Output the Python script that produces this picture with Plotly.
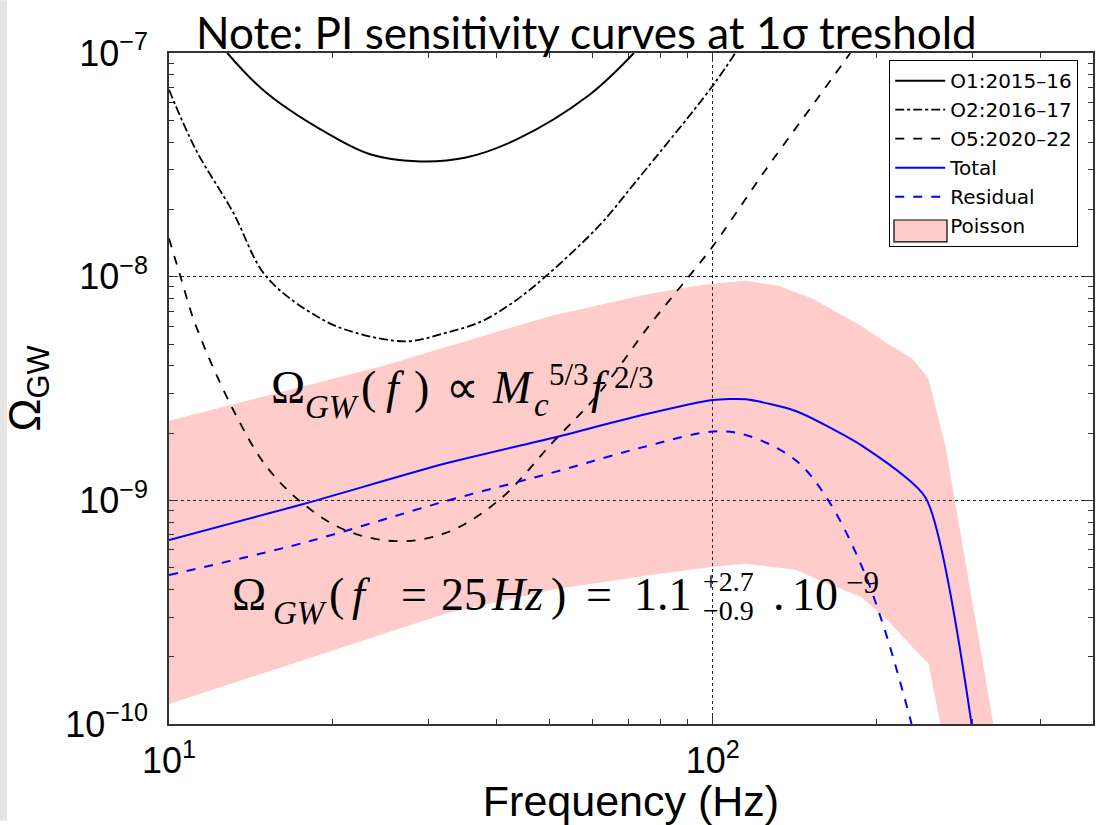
import plotly.graph_objects as go

# ---------------- data ----------------
o1_f = [12.8, 15.1, 20.5, 23.5, 28.5, 35.0, 43.5, 59.0, 71.6]
o1_om = [1.0e-7, 6.64e-8, 4.1e-8, 3.52e-8, 3.28e-8, 3.4e-8, 4.1e-8, 6.44e-8, 1.0e-7]

o2_f = [10.0, 11.2, 13.1, 15.1, 19.0, 22.1, 27.4, 32.2, 37.5, 43.0, 49.2, 61.8, 72.0, 99.6, 110.0]
o2_om = [6.85e-8, 3.7e-8, 1.95e-8, 1.0e-8, 6.5e-9, 5.6e-9, 5.14e-9, 5.6e-9, 6.3e-9, 7.7e-9, 1.0e-8, 1.69e-8,
         2.64e-8, 7.06e-8, 1.0e-7]

o5_f = [10.0, 10.5, 11.2, 13.1, 15.1, 17.6, 21.1, 26.1, 32.2, 40.4, 50.7, 61.8, 76.4, 90.3, 99.6, 125.0, 154.5, 179.0]
o5_om = [1.48e-8, 1.0e-8, 6.05e-9, 2.56e-9, 1.42e-9, 9.7e-10, 7.36e-10, 6.57e-10, 7.13e-10, 1.0e-9,
         1.81e-9, 3.02e-9, 6.05e-9, 1.0e-8, 1.35e-8, 3.0e-8, 6.1e-8, 1.0e-7]

total_f = [10.0, 17.6, 32.2, 50.7, 73.8, 100.0, 115.0, 142.0, 187.0, 246.0, 299.0]
total_om = [6.64e-10, 9.6e-10, 1.46e-9, 1.9e-9, 2.4e-9, 2.81e-9, 2.83e-9, 2.51e-9, 1.77e-9, 1.03e-9, 1.0e-10]

resid_f = [10.0, 17.6, 32.2, 50.7, 73.8, 100.0, 115.0, 142.0, 163.0, 187.0, 207.0, 232.0]
resid_om = [4.64e-10, 6.44e-10, 9.9e-10, 1.33e-9, 1.72e-9, 2.03e-9, 1.96e-9, 1.51e-9, 1.0e-9, 5.2e-10, 2.64e-10, 1.0e-10]

pois_up_f = [10.0, 24.6, 50.7, 75.0, 90.0, 100.0, 115.0, 132.0, 152.0, 170.0, 187.0, 210.0, 232.0, 249.0, 268.0, 328.0]
pois_up_om = [2.27e-9, 3.98e-9, 6.71e-9, 8.3e-9, 9.0e-9, 9.3e-9, 9.6e-9, 9.1e-9, 8.0e-9, 6.85e-9, 6.05e-9,
              5.0e-9, 4.33e-9, 3.52e-9, 1.73e-9, 1.0e-10]
pois_lo_f = [10.0, 17.6, 32.2, 50.7, 75.0, 100.0, 115.0, 142.0, 160.0, 187.0, 210.0, 232.0, 249.0, 262.0]
pois_lo_om = [1.23e-10, 1.92e-10, 3.11e-10, 3.98e-10, 4.6e-10, 5.05e-10, 5.2e-10, 4.89e-10, 4.3e-10, 3.71e-10,
              2.9e-10, 2.22e-10, 1.87e-10, 1.0e-10]

x_tickvals = [10, 100]
x_ticktext = ["10<sup>1</sup>", "10<sup>2</sup>"]
y_tickvals = [1e-10, 1e-9, 1e-8, 1e-7]
y_ticktext = ["10<sup>\u221210</sup>", "10<sup>\u22129</sup>", "10<sup>\u22128</sup>", "10<sup>\u22127</sup>"]

# ---------------- figure ----------------
W, H = 1107, 825
L, R, T, B = 169, 14, 53, 97
PW, PH = W - L - R, H - T - B

fig = go.Figure()

fig.add_trace(go.Scatter(
    x=pois_up_f + pois_lo_f[::-1], y=pois_up_om + pois_lo_om[::-1],
    fill="toself", fillcolor="rgba(255,0,0,0.2)", mode="lines",
    line=dict(width=0, color="rgba(0,0,0,0)"),
    showlegend=False, hoverinfo="skip"))

def line(xs, ys, name, color, dash, width, smooth=1.0):
    fig.add_trace(go.Scatter(x=xs, y=ys, mode="lines", name=name,
                             line=dict(color=color, dash=dash, width=width, shape="spline", smoothing=smooth)))

line(o1_f, o1_om, "O1:2015\u201316", "black", "solid", 2)
line(o2_f, o2_om, "O2:2016\u201317", "black", "dashdot", 1.8)
line(o5_f, o5_om, "O5:2020\u201322", "black", "dash", 1.8)
line(total_f, total_om, "Total", "#0000ff", "solid", 2, 0.6)
line(resid_f, resid_om, "Residual", "#0000ff", "dash", 2, 1.0)
# legend entry for the Poisson band (its swatch is drawn as a bordered box below)
fig.add_trace(go.Scatter(x=[None], y=[None], mode="lines", name="Poisson",
                         line=dict(color="rgba(0,0,0,0)", width=0)))

axis_common = dict(
    type="log", showline=True, linecolor="#333", linewidth=1.5, mirror="ticks",
    ticks="inside", ticklen=9, tickwidth=1.2, tickcolor="#333",
    showgrid=True, gridcolor="#222", griddash="dot", gridwidth=1,
    zeroline=False, tickmode="array",
    tickfont=dict(family="Liberation Sans, Arial", size=36, color="black"),
    minor=dict(ticks="inside", ticklen=5, tickcolor="#333", tickwidth=1, showgrid=False, dtick="D1"),
)

fig.update_xaxes(**axis_common, range=[1, 2.699], tickvals=x_tickvals, ticktext=x_ticktext,
                 title=dict(text="Frequency (Hz)", font=dict(family="Liberation Sans, Arial", size=43, color="black"),
                            standoff=2), ticklabelstandoff=4)
fig.update_yaxes(**axis_common, range=[-10, -7], tickvals=y_tickvals, ticktext=y_ticktext,
                 title=dict(text="\u03a9<sub>GW</sub>", font=dict(family="Liberation Sans, Arial", size=44, color="black"),
                            standoff=12), ticklabelstandoff=12)

def px(x):
    return (x - L) / PW

def py(y):
    return (H - B - y) / PH

annos = []

def tok(text, x, base, size, family="Liberation Serif, Times New Roman, serif", off=0.3375):
    annos.append(dict(text=text, xref="paper", yref="paper", x=px(x), y=py(base - off * size),
                      xanchor="left", yanchor="middle", showarrow=False, borderpad=0,
                      font=dict(family=family, size=size, color="black")))

# title note
annos.append(dict(text="Note: PI sensitivity curves at 1\u03c3 treshold", xref="paper", yref="paper",
                  x=px(586), y=py(32), xanchor="center", yanchor="middle", showarrow=False,
                  font=dict(family="Lato, Open Sans, sans-serif", size=44, color="black")))

# formula 1
tok("\u03a9", 270, 405, 46)
tok("<i>GW</i>", 304, 420, 33)
tok("(", 360, 405, 46)
tok("<i>f</i>", 385, 405, 46)
tok(")", 413, 405, 46)
tok("\u221d", 445, 405, 46)
tok("<i>M</i>", 491, 405, 46)
tok("<i>c</i>", 533, 418, 33)
tok("5/3", 548, 387, 31)
tok("<i>f</i>", 590, 405, 46)
tok("2/3", 613, 390, 31)

# formula 2
tok("\u03a9", 231, 613, 46)
tok("<i>GW</i>", 272, 627, 33)
tok("(", 328, 613, 46)
tok("<i>f</i>", 351, 613, 46)
tok("=", 400, 613, 46)
tok("25", 440, 613, 46)
tok("<i>Hz</i>", 490, 613, 46)
tok(")", 550, 613, 46)
tok("=", 585, 613, 46)
tok("1.1", 633, 613, 46)
tok("+2.7", 702, 594, 28)
tok("\u22120.9", 702, 623, 28)
tok(".", 772, 613, 46)
tok("10", 791, 613, 46)
tok("\u22129", 845, 596, 31)

fig.update_layout(
    width=W, height=H, margin=dict(l=L, r=R, t=T, b=B),
    paper_bgcolor="white", plot_bgcolor="white",
    annotations=annos,
    legend=dict(x=px(889), y=py(60), xanchor="left", yanchor="top",
                bgcolor="rgba(255,255,255,0)", bordercolor="black", borderwidth=1.2,
                font=dict(family="DejaVu Sans, Liberation Sans, Arial", size=20, color="black"),
                tracegroupgap=0, itemwidth=50),
    shapes=[
        dict(type="rect", xref="paper", yref="paper", x0=px(0), x1=px(7), y0=py(H), y1=py(0),
             fillcolor="#e4e4e4", line=dict(width=0), layer="below"),
        dict(type="rect", xref="paper", yref="paper", x0=px(894), x1=px(947), y0=py(243), y1=py(221),
             fillcolor="rgb(255,204,204)", line=dict(width=1.2, color="black"), layer="above"),
    ],
)

fig.write_html("out.html")
